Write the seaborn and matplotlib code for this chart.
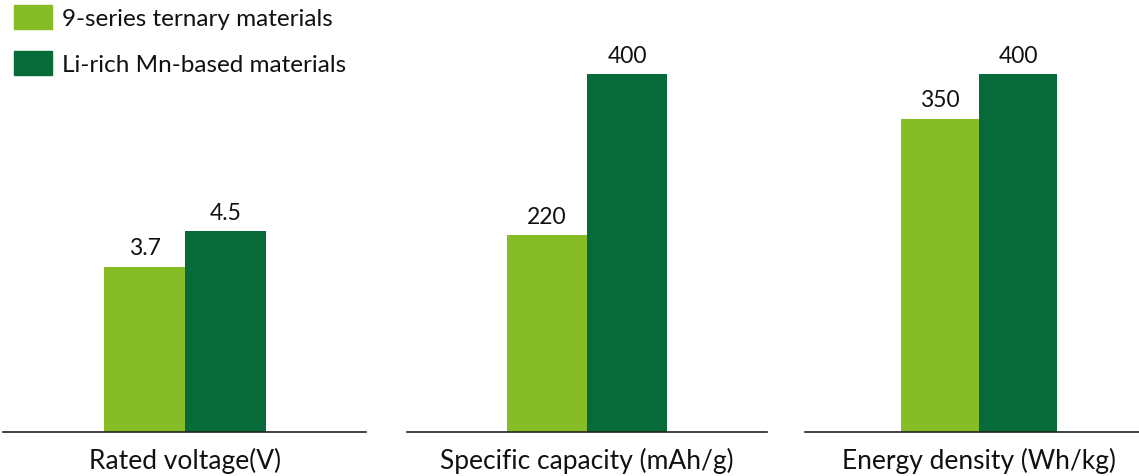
import pandas as pd
import matplotlib
matplotlib.use("Agg")
import matplotlib.pyplot as plt
import seaborn as sns

# values
metrics = ["Rated voltage(V)", "Specific capacity (mAh/g)", "Energy density (Wh/kg)"]
materials = ["9-series ternary materials", "Li-rich Mn-based materials"]
ternary = [3.7, 220, 350]
lirich = [4.5, 400, 400]
value_labels = [["3.7", "4.5"], ["220", "400"], ["350", "400"]]

colors = ["#86BC25", "#066B38"]

rows = []
for m, a, b in zip(metrics, ternary, lirich):
    rows.append({"metric": m, "material": materials[0], "value": a})
    rows.append({"metric": m, "material": materials[1], "value": b})
df = pd.DataFrame(rows)

sns.set_style("white")
plt.rcParams["font.family"] = ["Lato", "DejaVu Sans"]

W, H = 1139, 477
fig = plt.figure(figsize=(W / 100, H / 100), dpi=100)

# panel boxes in pixels: left, right ; baseline 433, top 20
boxes = [(3, 366), (407, 767), (805, 1139)]
xlims = [(-0.899, 0.894), (-0.9, 0.9), (-0.892, 0.82)]
ytops = [9.246, 461.5, 461.5]

for i, m in enumerate(metrics):
    l, r = boxes[i]
    ax = fig.add_axes([l / W, 1 - 433 / H, (r - l) / W, 413 / H])
    sub = df[df["metric"] == m]
    sns.barplot(data=sub, x="metric", y="value", hue="material",
                hue_order=materials, palette=colors, saturation=1,
                width=0.8, ax=ax, legend=False, linewidth=0)
    for cont, lab in zip(ax.containers, value_labels[i]):
        ax.bar_label(cont, labels=[lab], padding=6, fontsize=16.5, color="#111111")
    ax.set_xlim(*xlims[i])
    ax.set_ylim(0, ytops[i])
    ax.set_yticks([])
    ax.set_ylabel("")
    ax.set_xlabel("")
    ax.tick_params(axis="x", length=0, pad=11, labelsize=19, labelcolor="#111111")
    for s in ["top", "left", "right"]:
        ax.spines[s].set_visible(False)
    ax.spines["bottom"].set_color("#222222")
    ax.spines["bottom"].set_linewidth(1.2)

handles = [plt.Rectangle((0, 0), 1, 1, color=c) for c in colors]
fig.legend(handles, materials, loc="upper left",
           bbox_to_anchor=(14 / W, 1 - 6 / H), frameon=False, fontsize=17.5,
           handlelength=1.56, handleheight=1.15, labelspacing=0.88,
           handletextpad=0.41, borderpad=0, borderaxespad=0,
           labelcolor="#111111")

fig.savefig("out.png", dpi=100)
